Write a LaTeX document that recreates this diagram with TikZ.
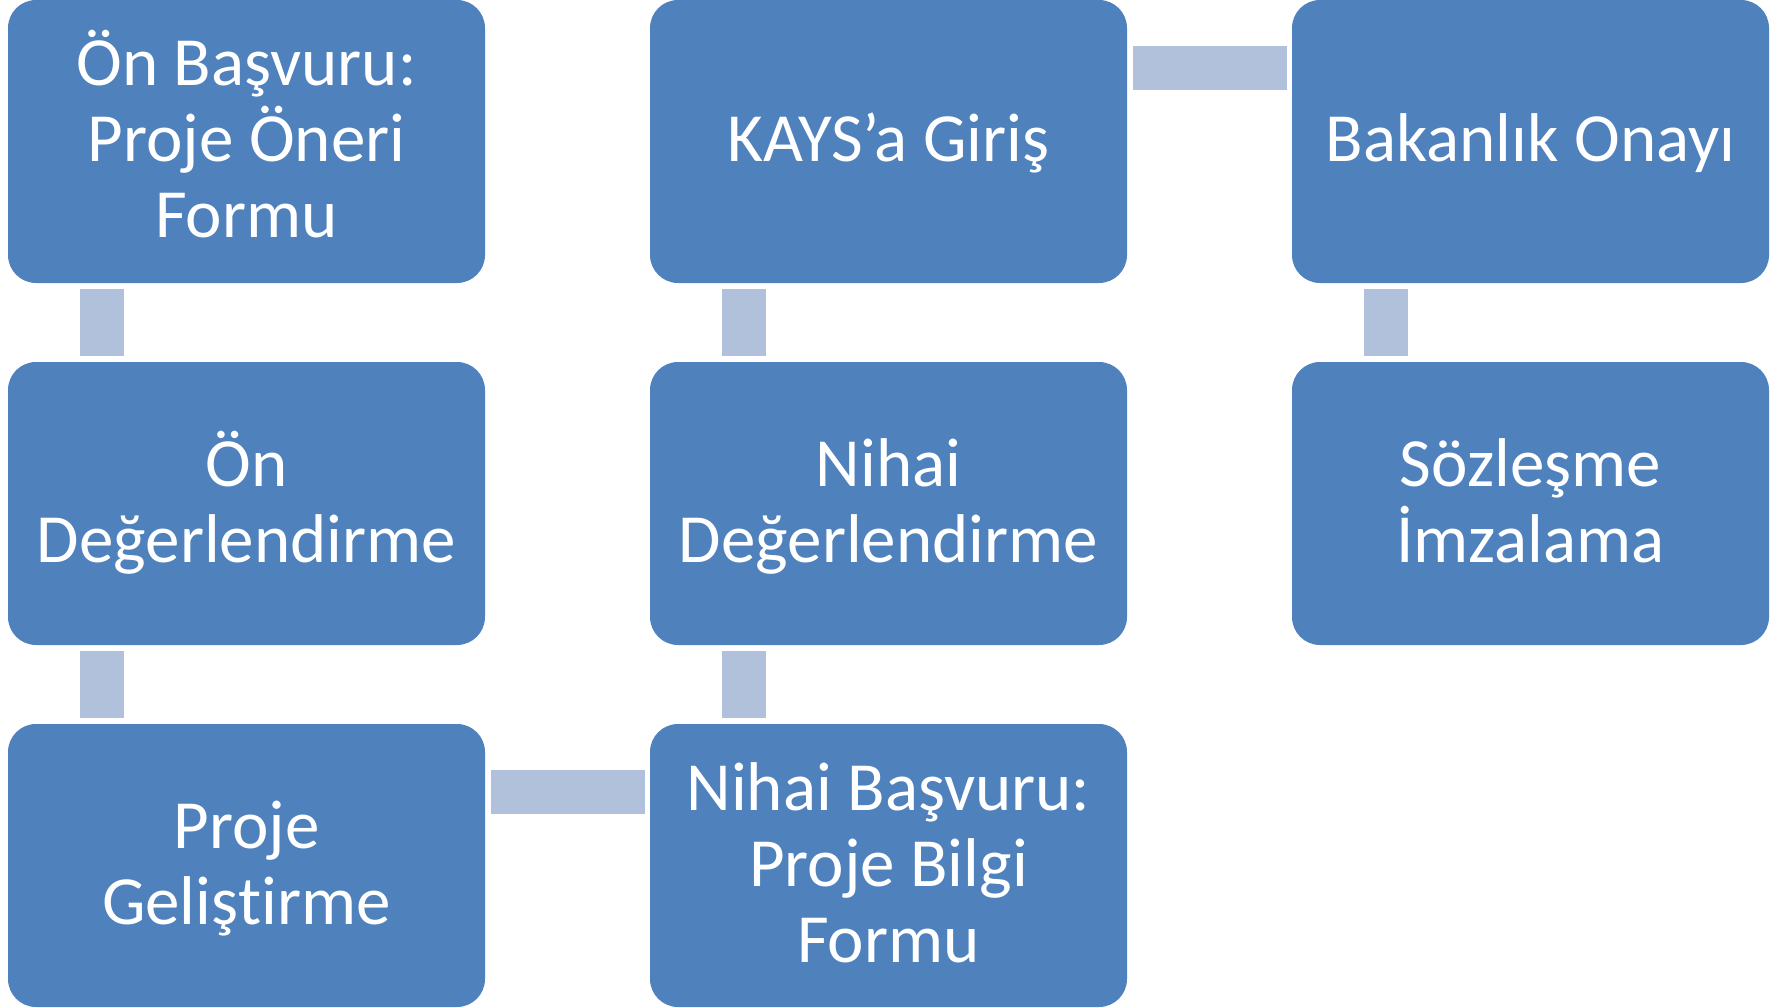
\documentclass[tikz,border=0pt]{standalone}
\usepackage{fontspec}
\setmainfont{Carlito}[Ligatures=NoCommon]
\usetikzlibrary{calc}
\definecolor{boxblue}{HTML}{4F81BD}
\definecolor{connblue}{HTML}{B2C1DB}
\newcommand\tstrut{\rule{0pt}{60pt}}
\newcommand\bstrut{\rule[-19pt]{0pt}{19pt}}
\tikzset{
  stepbox/.style={rectangle, rounded corners=28pt, fill=boxblue, draw=none,
    minimum width=477pt, minimum height=283pt, inner sep=0pt,
    text=white, align=flush center, text width=470pt,
    font=\fontsize{69}{76}\selectfont},
  conn/.style={draw=connblue, line width=44pt, line cap=butt}
}
\begin{document}
\begin{tikzpicture}[x=1pt,y=-1pt]
\useasboundingbox (0,0) rectangle (1787,1008);
\node[stepbox] (b1) at (246.5,141.5) {\tstrut Ön Başvuru:\\Proje Öneri\\Formu\bstrut};
\node[stepbox] (b2) at (246.5,503.5) {\tstrut Ön\\Değerlendirme\bstrut};
\node[stepbox] (b3) at (246.5,865.5) {\tstrut Proje\\Geliş\kern0pt t\kern0pt irme\bstrut};
\node[stepbox] (b4) at (888.5,865.5) {\tstrut Nihai Başvuru:\\Proje Bilgi\\Formu\bstrut};
\node[stepbox] (b5) at (888.5,503.5) {\tstrut Nihai\\Değerlendirme\bstrut};
\node[stepbox] (b6) at (888.5,141.5) {\tstrut KAYS’a Giriş\bstrut};
\node[stepbox] (b7) at (1530.5,141.5) {\tstrut Bakanlık Onayı\bstrut};
\node[stepbox] (b8) at (1530.5,503.5) {\tstrut Sözleşme\\İmzalama\bstrut};
\draw[conn] ([shift={(-144.5,6)}]b1.south) -- ([shift={(-144.5,-6)}]b2.north);
\draw[conn] ([shift={(-144.5,6)}]b2.south) -- ([shift={(-144.5,-6)}]b3.north);
\draw[conn] ([shift={(6,-73.5)}]b3.east) -- ([shift={(-5,-73.5)}]b4.west);
\draw[conn] ([shift={(-144.5,-6)}]b4.north) -- ([shift={(-144.5,6)}]b5.south);
\draw[conn] ([shift={(-144.5,-6)}]b5.north) -- ([shift={(-144.5,6)}]b6.south);
\draw[conn] ([shift={(6,-73.5)}]b6.east) -- ([shift={(-5,-73.5)}]b7.west);
\draw[conn] ([shift={(-144.5,6)}]b7.south) -- ([shift={(-144.5,-6)}]b8.north);
\end{tikzpicture}
\end{document}
